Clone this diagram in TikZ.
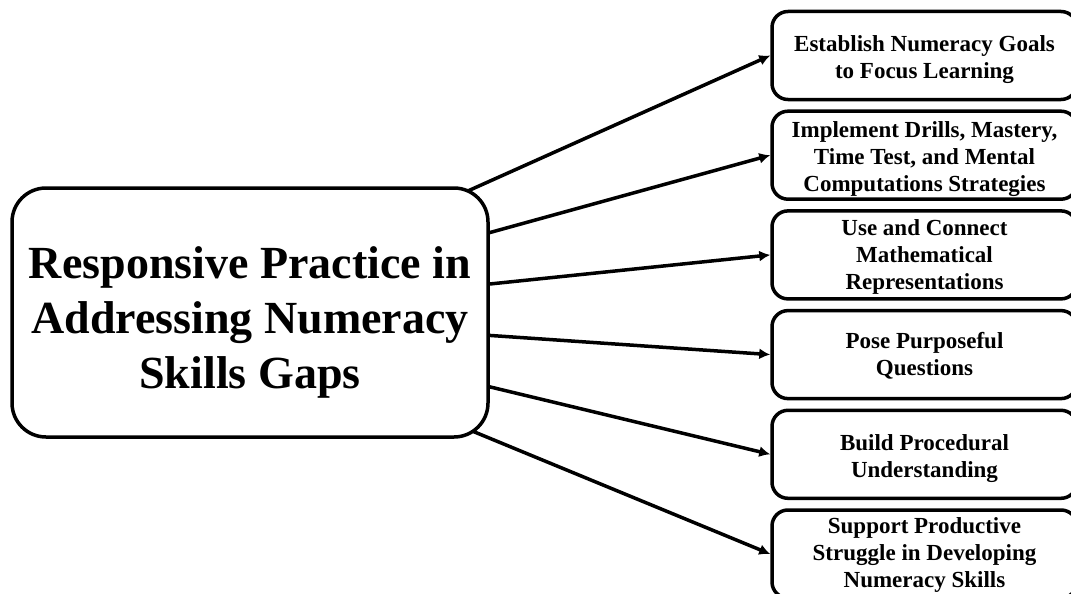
\documentclass[tikz,border=0pt]{standalone}
\usepackage{fontspec}
\setmainfont{Liberation Serif}
\usetikzlibrary{arrows.meta,backgrounds}

\begin{document}
\begin{tikzpicture}[x=1pt,y=-1pt,
    hub box/.style={draw,line width=3.5pt,rounded corners=34pt,fill=white,
       minimum width=476pt,minimum height=249pt,align=center,
       font=\bfseries\fontsize{46}{55}\selectfont},
    leaf box/.style={draw,line width=3.5pt,rounded corners=16pt,fill=white,
       minimum width=305pt,minimum height=88pt,align=center,inner sep=0pt,
       font=\bfseries\fontsize{23}{27}\selectfont},
    link/.style={line width=3.5pt,-{Latex[length=11pt,width=11pt]}}]
    \useasboundingbox (0,0) rectangle (1071,594);
    \node[hub box] (main) at (250,312.5)
       {\rule{0pt}{51pt}Responsive Practice in\\Addressing Numeracy\\Skills Gaps};
    \coordinate (hub) at (191,315);
    % the six practices (\s = strut of first line)
    \foreach \i/\s/\txt in {
       1/25/{Establish Numeracy Goals\\to Focus Learning},
       2/23/{Implement Drills, Mastery,\\Time Test, and Mental\\Computations Strategies},
       3/20/{Use and Connect\\Mathematical\\Representations},
       4/19/{Pose Purposeful\\Questions},
       5/25/{Build Procedural\\Understanding},
       6/17/{Support Productive\\Struggle in Developing\\Numeracy Skills}}
      \node[leaf box] (leaf\i) at (924.5,{55.5+99.7*(\i-1)}) {\rule{0pt}{\s pt}\txt};
    \begin{scope}[on background layer]
      \foreach \i in {1,...,6}
        \draw[link] (hub) -- (leaf\i.west);
    \end{scope}
\end{tikzpicture}
\end{document}
